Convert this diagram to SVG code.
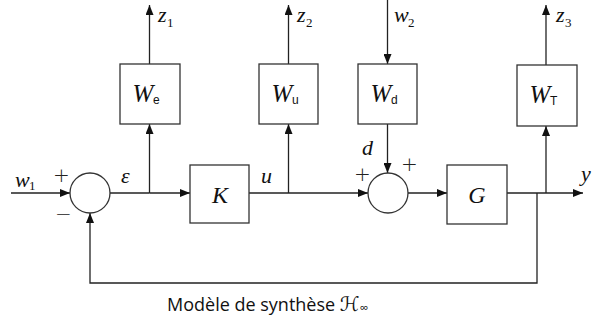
<svg xmlns="http://www.w3.org/2000/svg" width="592" height="326" viewBox="0 0 592 326">
<defs>
<marker id="ah" viewBox="0 0 10 8" refX="10" refY="4" markerWidth="10" markerHeight="8" markerUnits="userSpaceOnUse" orient="auto">
<path d="M0,0 L10,4 L0,8 Z" fill="#111"/>
</marker>
</defs>
<style>
.blk{fill:#fff;stroke:#333;stroke-width:1.3}
.ln{fill:none;stroke:#222;stroke-width:1.3}
.ar{marker-end:url(#ah)}
.v{font-family:"Liberation Serif",serif;font-style:italic;fill:#111}
.n{font-family:"Liberation Serif",serif;fill:#111}
.sub{font-family:"Liberation Sans",sans-serif;fill:#111}
.sym{font-family:"DejaVu Sans",sans-serif;font-weight:300;fill:#222}
.cap{font-family:"Open Sans","DejaVu Sans",sans-serif;fill:#111}
</style>
<rect width="592" height="326" fill="#fff"/>
<g id="connectors">
<path class="ln ar" d="M11,193 H70"/>
<path class="ln" d="M110,193 H149.5"/>
<path class="ln ar" d="M149.5,193 H190"/>
<path class="ln ar" d="M149.5,193 V124"/>
<path class="ln ar" d="M149.5,64 V5"/>
<path class="ln ar" d="M249,193 H368"/>
<path class="ln ar" d="M288.5,193 V124"/>
<path class="ln ar" d="M288.5,64 V5"/>
<path class="ln ar" d="M387.5,0 V64"/>
<path class="ln ar" d="M387.5,124 V173"/>
<path class="ln ar" d="M408,193 H447"/>
<path class="ln ar" d="M507,193 H583"/>
<path class="ln ar" d="M546,193 V126"/>
<path class="ln ar" d="M546,65 V5"/>
<path class="ln ar" d="M537,193 V283 H90 V213"/>
</g>
<g id="sum1"><circle class="blk" cx="90" cy="193" r="20"/></g>
<g id="sum2"><circle class="blk" cx="388" cy="193" r="20"/></g>
<g id="We"><rect class="blk" x="120" y="64" width="60" height="60"/><text class="v" x="143" y="102" font-size="25" text-anchor="middle">W</text><text class="sub" x="153" y="104" font-size="12">e</text></g>
<g id="Wu"><rect class="blk" x="259" y="64" width="59" height="60"/><text class="v" x="282" y="102" font-size="25" text-anchor="middle">W</text><text class="sub" x="292" y="104" font-size="12">u</text></g>
<g id="Wd"><rect class="blk" x="358" y="64" width="59" height="60"/><text class="v" x="381" y="102" font-size="25" text-anchor="middle">W</text><text class="sub" x="391" y="104" font-size="12">d</text></g>
<g id="WT"><rect class="blk" x="517" y="65" width="60" height="61"/><text class="v" x="540" y="103" font-size="25" text-anchor="middle">W</text><text class="sub" x="550" y="105" font-size="12">T</text></g>
<g id="K"><rect class="blk" x="190" y="165" width="59" height="58"/><text class="v" x="220" y="203" font-size="24" text-anchor="middle">K</text></g>
<g id="G"><rect class="blk" x="447" y="165" width="60" height="59"/><text class="v" x="477" y="203" font-size="24" text-anchor="middle">G</text></g>
<g id="labels">
<text class="v" x="158" y="22" font-size="22">z</text><text class="n" x="167" y="27" font-size="13">1</text>
<text class="v" x="297" y="22" font-size="22">z</text><text class="n" x="306" y="27" font-size="13">2</text>
<text class="v" x="394" y="22" font-size="22">w</text><text class="n" x="408" y="27" font-size="13">2</text>
<text class="v" x="556" y="22" font-size="22">z</text><text class="n" x="565" y="27" font-size="13">3</text>
<text class="v" x="15" y="187" font-size="22">w</text><text class="n" x="29" y="190" font-size="13">1</text>
<text class="sym" x="53" y="182" font-size="20">+</text>
<text class="sym" x="55" y="221" font-size="20">−</text>
<text class="v" x="121" y="183" font-size="22">ε</text>
<text class="v" x="261" y="183" font-size="22">u</text>
<text class="v" x="362" y="155" font-size="22">d</text>
<text class="sym" x="354" y="181" font-size="20">+</text>
<text class="sym" x="401" y="171" font-size="20">+</text>
<text class="v" x="581" y="181" font-size="22">y</text>
<text class="cap" x="167" y="311" font-size="18">Modèle de synthèse <tspan font-family="DejaVu Sans,serif" font-style="italic" font-size="20">ℋ</tspan><tspan font-size="12" dy="1">∞</tspan></text>
</g>
</svg>
